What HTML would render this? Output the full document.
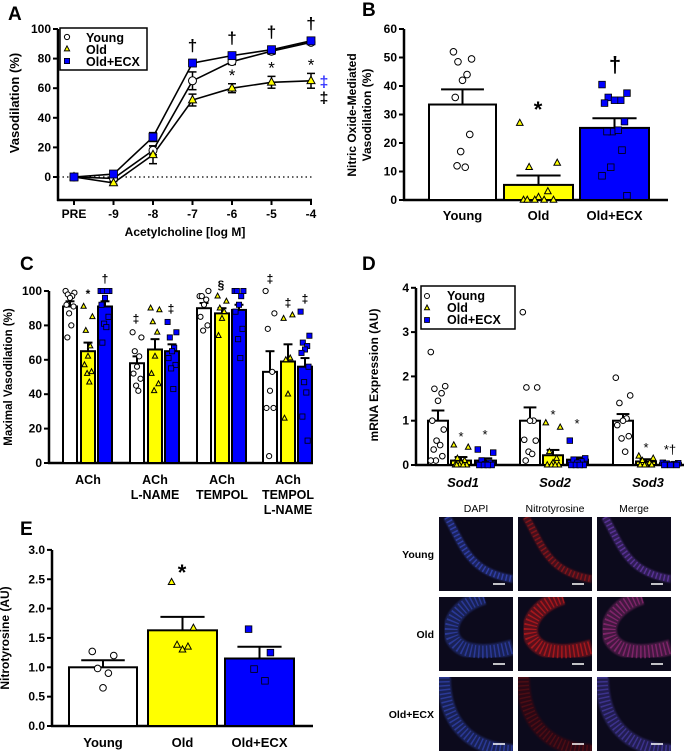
<!DOCTYPE html>
<html><head><meta charset="utf-8"><style>
body{margin:0;background:#fff}
svg{display:block;font-family:"Liberation Sans",Arial,sans-serif;font-weight:bold}
</style></head><body>
<svg id="fig" width="684" height="752" viewBox="0 0 684 752" xmlns="http://www.w3.org/2000/svg">
<defs>
<filter id="blur1"><feGaussianBlur stdDeviation="0.8"/></filter>
</defs>
</svg>
<script>
// ---------- Panel A data ----------
const A_labels=['PRE','-9','-8','-7','-6','-5','-4'];
const A_young=[0,-1,18,65,78,85,91];
const A_young_sem=[1,1,3,6,2,2,1];
const A_old=[0,-4,15,52,60,64,65];
const A_old_sem=[1,1,6,4,3,4,5];
const A_ecx=[0,2,27,77,82,86,92];
const A_ecx_sem=[1,1,3,2,1,1,1];
const A_ticks=[0,20,40,60,80,100];
// ---------- Panel B data ----------
const B_groups=['Young','Old','Old+ECX'];
const B_means=[33.5,5.3,25.3];
const B_sem=[5.3,3.3,3.4];
const B_young_pts=[52,49.5,48.5,44,42,36,23,17,11.5,12];
const B_old_pts=[27,13,11.5,3,1,0,0,0,0,0];
const B_ecx_pts=[40.5,37.5,36,35,35,34,27.5,24,24.5,24,17.5,11.5,8.5,1.5];
const B_ticks=[0,10,20,30,40,50,60];
// ---------- Panel C data ----------
const C_groups=[['ACh'],['ACh','L-NAME'],['ACh','TEMPOL'],['ACh','TEMPOL','L-NAME']];
const C_young=[91,58,90,53];
const C_young_sem=[3,4,3,12];
const C_old=[65,66,87,59];
const C_old_sem=[5,6,3,10];
const C_ecx=[91,65,89,56];
const C_ecx_sem=[3,4,3,5];
const C_young_pts=[[100,99,98,97,96,92,91,87,80,73],[76,73,65,62,56,52,49,45,42],[97,100,97,95,92,85,80,77],[100,87,78,53,42,32,32,4]];
const C_old_pts=[[91,85,77,68,62,57,53,52,47],[90,89,82,76,62,52,46,42],[97,94,90,88,84,74],[84,86,60,61,40,26]];
const C_ecx_pts=[[100,100,100,100,96,92,85,81,79,70],[82,76,73,67,65,61,57,55,43],[100,100,100,97,92,88,78,72,61],[88,74,70,68,66,64,56,47,41,27,13]];
const C_ticks=[0,20,40,60,80,100];
// ---------- Panel D data ----------
const D_genes=['Sod1','Sod2','Sod3'];
const D_young=[1.0,1.0,1.0];
const D_young_sem=[0.23,0.3,0.15];
const D_old=[0.1,0.22,0.08];
const D_old_sem=[0.08,0.12,0.05];
const D_ecx=[0.1,0.12,0.04];
const D_ecx_sem=[0.05,0.05,0.02];
const D_young_pts=[[2.55,1.78,1.72,1.62,1.45,1.0,0.8,0.55,0.45,0.35,0.2,0.1,0.1],[3.45,1.75,1.75,1.0,1.0,0.57,0.55,0.3,0.25,0.1],[1.97,1.57,1.4,1.05,1.0,0.9,0.65,0.6,0.3]];
const D_old_pts=[[0.45,0.4,0.15,0.1,0.05,0,0,0,0,0],[0.95,0.85,0.3,0.15,0.05,0,0,0,0],[0.2,0.15,0.1,0.05,0,0,0,0]];
const D_ecx_pts=[[0.35,0.28,0.1,0.05,0.02,0,0,0,0],[0.55,0.15,0.12,0.08,0.05,0,0,0,0],[0.05,0.04,0.03,0.02,0,0,0]];
const D_ticks=[0,1,2,3,4];
// ---------- Panel E data ----------
const E_groups=['Young','Old','Old+ECX'];
const E_means=[1.0,1.63,1.15];
const E_sem=[0.12,0.23,0.2];
const E_young_pts=[1.27,1.2,0.98,0.9,0.65];
const E_old_pts=[2.45,1.67,1.38,1.35,1.3];
const E_ecx_pts=[1.65,1.25,0.97,0.77];
const E_ticks=['0.0','0.5','1.0','1.5','2.0','2.5','3.0'];

const NS='http://www.w3.org/2000/svg';
const svg=document.getElementById('fig');
function el(tag,attrs,parent,text){
  const e=document.createElementNS(NS,tag);
  for(const k in attrs)e.setAttribute(k,attrs[k]);
  if(text!==undefined)e.textContent=text;
  (parent||svg).appendChild(e);return e;
}
function grp(name){
  const g=el('g',{});
  
  
  return g;
}
function marker(g,type,x,y,s,name){
  let m;
  if(type==='c')m=el('circle',{cx:x,cy:y,r:s,fill:'#fff',stroke:'#000','stroke-width':1},g);
  else if(type==='t')m=el('polygon',{points:`${x},${y-s-0.5} ${x-s},${y+s*0.7} ${x+s},${y+s*0.7}`,fill:'#ffff00',stroke:'#000','stroke-width':1},g);
  else m=el('rect',{x:x-s,y:y-s,width:2*s,height:2*s,fill:'#0000ff',stroke:'#000','stroke-width':0.8},g);
  
  
  return m;
}
function txt(g,x,y,s,size,anchor,name,extra){
  const t=el('text',Object.assign({x:x,y:y,'font-size':size,'text-anchor':anchor||'middle'},extra||{}),g,s);
  
  
  return t;
}
function yaxis(g,x,y0,y1,ticks,sc,name,fs){
  el('line',{x1:x,y1:y0,x2:x,y2:y1,stroke:'#000','stroke-width':2.5},g);
  ticks.forEach(t=>{const v=parseFloat(t);const y=sc(v);
    el('line',{x1:x-5,y1:y,x2:x,y2:y,stroke:'#000','stroke-width':2},g);
    txt(g,x-7,y+4,t,fs||12,'end',name+'-tick-'+t);
  });
}
function bar(g,x0,x1,mean,sem,sc,fill,name){
  const b=el('rect',{x:x0,y:sc(mean),width:x1-x0,height:sc(0)-sc(mean),fill:fill,stroke:'#000','stroke-width':2},g);
  
  
  const cx=(x0+x1)/2,w=(x1-x0)*0.32;
  el('line',{x1:cx,y1:sc(mean),x2:cx,y2:sc(mean+sem),stroke:'#000','stroke-width':2},g);
  el('line',{x1:cx-w,y1:sc(mean+sem),x2:cx+w,y2:sc(mean+sem),stroke:'#000','stroke-width':2},g);
}
function pts(g,vals,x0,x1,sc,type,s,name,spread){
  const cx=(x0+x1)/2,w=((x1-x0)/2-s)*(spread||1);
  const offs=[-1,1,-0.5,0.5,0,-0.8,0.8,-0.2,0.3,-0.6,0.6,-0.3];
  vals.forEach((v,i)=>marker(g,type,cx+offs[i%offs.length]*w,sc(v),s,name+'-'+i));
}

// ===== Panel A =====
(function(){
  const g=grp('panel-a-dose-response');
  const yA=v=>177-v*1.48, xA=i=>74+i*39.5;
  txt(g,8,20,'A',19,'start','panel-a-label');
  yaxis(g,58,29,201,A_ticks.map(String),yA,'a-y');
  el('line',{x1:57,y1:200,x2:312,y2:200,stroke:'#000','stroke-width':2.5},g);
  A_labels.forEach((l,i)=>{el('line',{x1:xA(i),y1:200,x2:xA(i),y2:205,stroke:'#000','stroke-width':2},g);
    txt(g,xA(i),218,l,12,'middle','a-x-tick-'+l);});
  txt(g,185,236,'Acetylcholine [log M]',12,'middle','a-x-axis-title');
  txt(g,0,0,'Vasodilation (%)',13,'middle','a-y-axis-title',{transform:'translate(19,103) rotate(-90)'});
  el('line',{x1:58,y1:yA(0),x2:312,y2:yA(0),stroke:'#000','stroke-width':1.2,'stroke-dasharray':'1.5,3'},g);
  const series=[[A_young,A_young_sem,'c','young'],[A_old,A_old_sem,'t','old'],[A_ecx,A_ecx_sem,'s','ecx']];
  series.forEach(([d,se,t,n])=>{
    const p=el('polyline',{points:d.map((v,i)=>xA(i)+','+yA(v)).join(' '),fill:'none',stroke:'#000','stroke-width':1.6},g);
    
    d.forEach((v,i)=>{
      el('line',{x1:xA(i),y1:yA(v-se[i]),x2:xA(i),y2:yA(v+se[i]),stroke:'#000','stroke-width':1.5},g);
      el('line',{x1:xA(i)-4,y1:yA(v-se[i]),x2:xA(i)+4,y2:yA(v-se[i]),stroke:'#000','stroke-width':1.5},g);
      el('line',{x1:xA(i)-4,y1:yA(v+se[i]),x2:xA(i)+4,y2:yA(v+se[i]),stroke:'#000','stroke-width':1.5},g);
    });
  });
  series.forEach(([d,se,t,n])=>d.forEach((v,i)=>marker(g,t,xA(i),yA(v),4,'a-point-'+n+'-'+i)));
  [3,4,5,6].forEach(i=>txt(g,xA(i),yA(Math.max(A_ecx[i],A_young[i]))-12,'†',17,'middle','a-dagger-'+i));
  [4,5,6].forEach(i=>txt(g,xA(i),yA(A_old[i]+A_old_sem[i])-3,'*',17,'middle','a-star-'+i,{'font-weight':'normal'}));
  txt(g,324,87,'‡',16,'middle','a-ddagger-blue',{fill:'#3333ff'});
  txt(g,324,103,'‡',16,'middle','a-ddagger-black');
  const lg=grp('a-legend');
  el('rect',{x:60,y:28,width:87,height:42,fill:'#fff',stroke:'#000','stroke-width':1.5},lg);
  [['c','Young'],['t','Old'],['s','Old+ECX']].forEach(([t,l],i)=>{marker(lg,t,67,37+i*12,2.6,'a-legend-marker-'+l);
    txt(lg,86,42+i*12,l,12.5,'start','a-legend-'+l);});
})();

// ===== Panel B =====
(function(){
  const g=grp('panel-b-no-vasodilation');
  const yB=v=>200-v*2.85;
  txt(g,362,16,'B',19,'start','panel-b-label');
  yaxis(g,404,29,201,B_ticks.map(String),yB,'b-y');
  el('line',{x1:403,y1:200,x2:668,y2:200,stroke:'#000','stroke-width':2.5},g);
  txt(g,0,0,'Nitric Oxide-Mediated',12,'middle','b-y-title-1',{transform:'translate(356,115) rotate(-90)'});
  txt(g,0,0,'Vasodilation (%)',12,'middle','b-y-title-2',{transform:'translate(371,115) rotate(-90)'});
  const xs=[[429,496],[504,573],[580,649]],fills=['#fff','#ffff00','#0000ff'],types=['c','t','s'];
  const P=[B_young_pts,B_old_pts,B_ecx_pts],spr=[0.3,0.6,0.4];
  B_groups.forEach((n,i)=>{bar(g,xs[i][0],xs[i][1],B_means[i],B_sem[i],yB,fills[i],'b-bar-'+n);
    pts(g,P[i],xs[i][0],xs[i][1],yB,types[i],3.3,'b-point-'+n,spr[i]);
    txt(g,(xs[i][0]+xs[i][1])/2,220,n,13,'middle','b-x-label-'+n);});
  txt(g,538,117,'*',22,'middle','b-star');
  txt(g,615,72,'†',22,'middle','b-dagger');
})();

// ===== Panel C =====
(function(){
  const g=grp('panel-c-maximal-vasodilation');
  const yC=v=>463-v*1.72;
  txt(g,20,270,'C',19,'start','panel-c-label');
  yaxis(g,49,291,464,C_ticks.map(String),yC,'c-y');
  el('line',{x1:48,y1:463,x2:313,y2:463,stroke:'#000','stroke-width':2.5},g);
  txt(g,0,0,'Maximal Vasodilation (%)',11.5,'middle','c-y-axis-title',{transform:'translate(12,377) rotate(-90)'});
  const starts=[63,130,197,263];
  C_groups.forEach((lab,k)=>{const s=starts[k];
    const xs=[[s,s+14],[s+18,s+32],[s+35,s+49]];
    bar(g,xs[0][0],xs[0][1],C_young[k],C_young_sem[k],yC,'#fff','c-bar-young-'+k);
    bar(g,xs[1][0],xs[1][1],C_old[k],C_old_sem[k],yC,'#ffff00','c-bar-old-'+k);
    bar(g,xs[2][0],xs[2][1],C_ecx[k],C_ecx_sem[k],yC,'#0000ff','c-bar-ecx-'+k);
    pts(g,C_young_pts[k],xs[0][0],xs[0][1],yC,'c',2.6,'c-point-young-'+k);
    pts(g,C_old_pts[k],xs[1][0],xs[1][1],yC,'t',2.6,'c-point-old-'+k);
    pts(g,C_ecx_pts[k],xs[2][0],xs[2][1],yC,'s',2.6,'c-point-ecx-'+k);
    lab.forEach((l,j)=>txt(g,s+25,484+j*15,l,12.5,'middle','c-x-label-'+k+'-'+j));
  });
  txt(g,88,298,'*',12,'middle','c-star-1');
  txt(g,105,283,'†',12,'middle','c-dagger-1');
  txt(g,136,323,'‡',12,'middle','c-dd-2a');
  txt(g,171,313,'‡',12,'middle','c-dd-2c');
  txt(g,221,289,'§',12,'middle','c-sect-3');
  txt(g,270,283,'‡',12,'middle','c-dd-4a');
  txt(g,288,307,'‡',12,'middle','c-dd-4b');
  txt(g,305,303,'‡',12,'middle','c-dd-4c');
})();

// ===== Panel D =====
(function(){
  const g=grp('panel-d-mrna');
  const yD=v=>465-v*44.3;
  txt(g,362,270,'D',19,'start','panel-d-label');
  yaxis(g,416,288,466,D_ticks.map(String),yD,'d-y');
  el('line',{x1:415,y1:465,x2:684,y2:465,stroke:'#000','stroke-width':2.5},g);
  txt(g,0,0,'mRNA Expression (AU)',12,'middle','d-y-axis-title',{transform:'translate(378,375) rotate(-90)'});
  const starts=[428,520,613];
  D_genes.forEach((n,k)=>{const s=starts[k];
    const xs=[[s,s+20],[s+23,s+43],[s+47,s+68]];
    bar(g,xs[0][0],xs[0][1],D_young[k],D_young_sem[k],yD,'#fff','d-bar-young-'+n);
    bar(g,xs[1][0],xs[1][1],D_old[k],D_old_sem[k],yD,'#ffff00','d-bar-old-'+n);
    bar(g,xs[2][0],xs[2][1],D_ecx[k],D_ecx_sem[k],yD,'#0000ff','d-bar-ecx-'+n);
    pts(g,D_young_pts[k],xs[0][0],xs[0][1],yD,'c',2.8,'d-point-young-'+n);
    pts(g,D_old_pts[k],xs[1][0],xs[1][1],yD,'t',2.8,'d-point-old-'+n);
    pts(g,D_ecx_pts[k],xs[2][0],xs[2][1],yD,'s',2.8,'d-point-ecx-'+n);
    txt(g,s+35,487,n,13,'middle','d-x-label-'+n,{'font-style':'italic'});
    txt(g,(xs[1][0]+xs[1][1])/2,yD(Math.max(...D_old_pts[k]))-4,'*',13,'middle','d-star-old-'+n,{'font-weight':'normal'});
  });
  txt(g,485,439,'*',13,'middle','d-star-ecx-Sod1',{'font-weight':'normal'});
  txt(g,577,428,'*',13,'middle','d-star-ecx-Sod2',{'font-weight':'normal'});
  txt(g,670,454,'*†',13,'middle','d-star-ecx-Sod3',{'font-weight':'normal'});
  const lg=grp('d-legend');
  el('rect',{x:421,y:286,width:94,height:43,fill:'#fff',stroke:'#000','stroke-width':1.5},lg);
  [['c','Young'],['t','Old'],['s','Old+ECX']].forEach(([t,l],i)=>{marker(lg,t,427,296+i*12,2.5,'d-legend-marker-'+l);
    txt(lg,447,300+i*12,l,12.5,'start','d-legend-'+l);});
})();

// ===== Panel E =====
(function(){
  const g=grp('panel-e-nitrotyrosine');
  const yE=v=>726-v*58.7;
  txt(g,20,535,'E',19,'start','panel-e-label');
  yaxis(g,52,550,727,E_ticks,yE,'e-y');
  el('line',{x1:51,y1:726,x2:313,y2:726,stroke:'#000','stroke-width':2.5},g);
  txt(g,0,0,'Nitrotyrosine (AU)',12,'middle','e-y-axis-title',{transform:'translate(9,638) rotate(-90)'});
  const xs=[[69,137],[148,217],[225,294]],fills=['#fff','#ffff00','#0000ff'],types=['c','t','s'];
  const P=[E_young_pts,E_old_pts,E_ecx_pts];
  E_groups.forEach((n,i)=>{bar(g,xs[i][0],xs[i][1],E_means[i],E_sem[i],yE,fills[i],'e-bar-'+n);
    pts(g,P[i],xs[i][0],xs[i][1],yE,types[i],3.3,'e-point-'+n,0.35);
    txt(g,(xs[i][0]+xs[i][1])/2,747,n,13,'middle','e-x-label-'+n);});
  txt(g,182,580,'*',22,'middle','e-star');
})();

// ===== Micrographs =====
(function(){
  const g=grp('micrograph-grid');
  const cols=[439,518,597],rows=[517,597,677],W=74,H=74;
  const heads=['DAPI','Nitrotyrosine','Merge'],rl=['Young','Old','Old+ECX'];
  const colors=[['#3f56e0','#c01818','#7a44c8'],['#3b52d8','#d81c1c','#b0308a'],['#3b52d8','#801414','#5548c8']];
  const op=[[0.55,0.5,0.55],[0.5,0.6,0.55],[0.5,0.4,0.5]];
  const paths=[
    (x,y)=>`M${x+8},${y} C${x+25},${y+30} ${x+30},${y+55} ${x+74},${y+62}`,
    (x,y)=>`M${x+45},${y} C${x-5},${y+15} ${x},${y+72} ${x+74},${y+50}`,
    (x,y)=>`M${x+5},${y} C${x+5},${y+45} ${x+30},${y+72} ${x+74},${y+74}`];
  const widths=[8,16,14];
  heads.forEach((h,c)=>txt(g,cols[c]+37,512,h,10.5,'middle','micro-header-'+h,{'font-weight':'normal'}));
  rl.forEach((l,r)=>{txt(g,434,rows[r]+41,l,10.5,'end','micro-row-'+l);
    heads.forEach((h,c)=>{const x=cols[c],y=rows[r];
      const cg=grp('micrograph-'+l+'-'+h);
      el('rect',{x:x,y:y,width:W,height:H,fill:'#0c0a1c'},cg);
      const cp=el('clipPath',{id:'cp'+r+c},cg);
      el('rect',{x:x,y:y,width:W,height:H},cp);
      el('path',{d:paths[r](x,y),fill:'none',stroke:colors[r][c],'stroke-width':widths[r],'stroke-opacity':op[r][c]*0.6,filter:'url(#blur1)','clip-path':`url(#cp${r}${c})`},cg);
      el('path',{d:paths[r](x,y),fill:'none',stroke:colors[r][c],'stroke-width':widths[r]*0.8,'stroke-opacity':op[r][c],'stroke-dasharray':'1.5,2.5','clip-path':`url(#cp${r}${c})`},cg);
      el('line',{x1:x+W-20,y1:y+H-7,x2:x+W-8,y2:y+H-7,stroke:'#fff','stroke-width':1.5},cg);
    });
  });
})();
</script>
</body></html>
